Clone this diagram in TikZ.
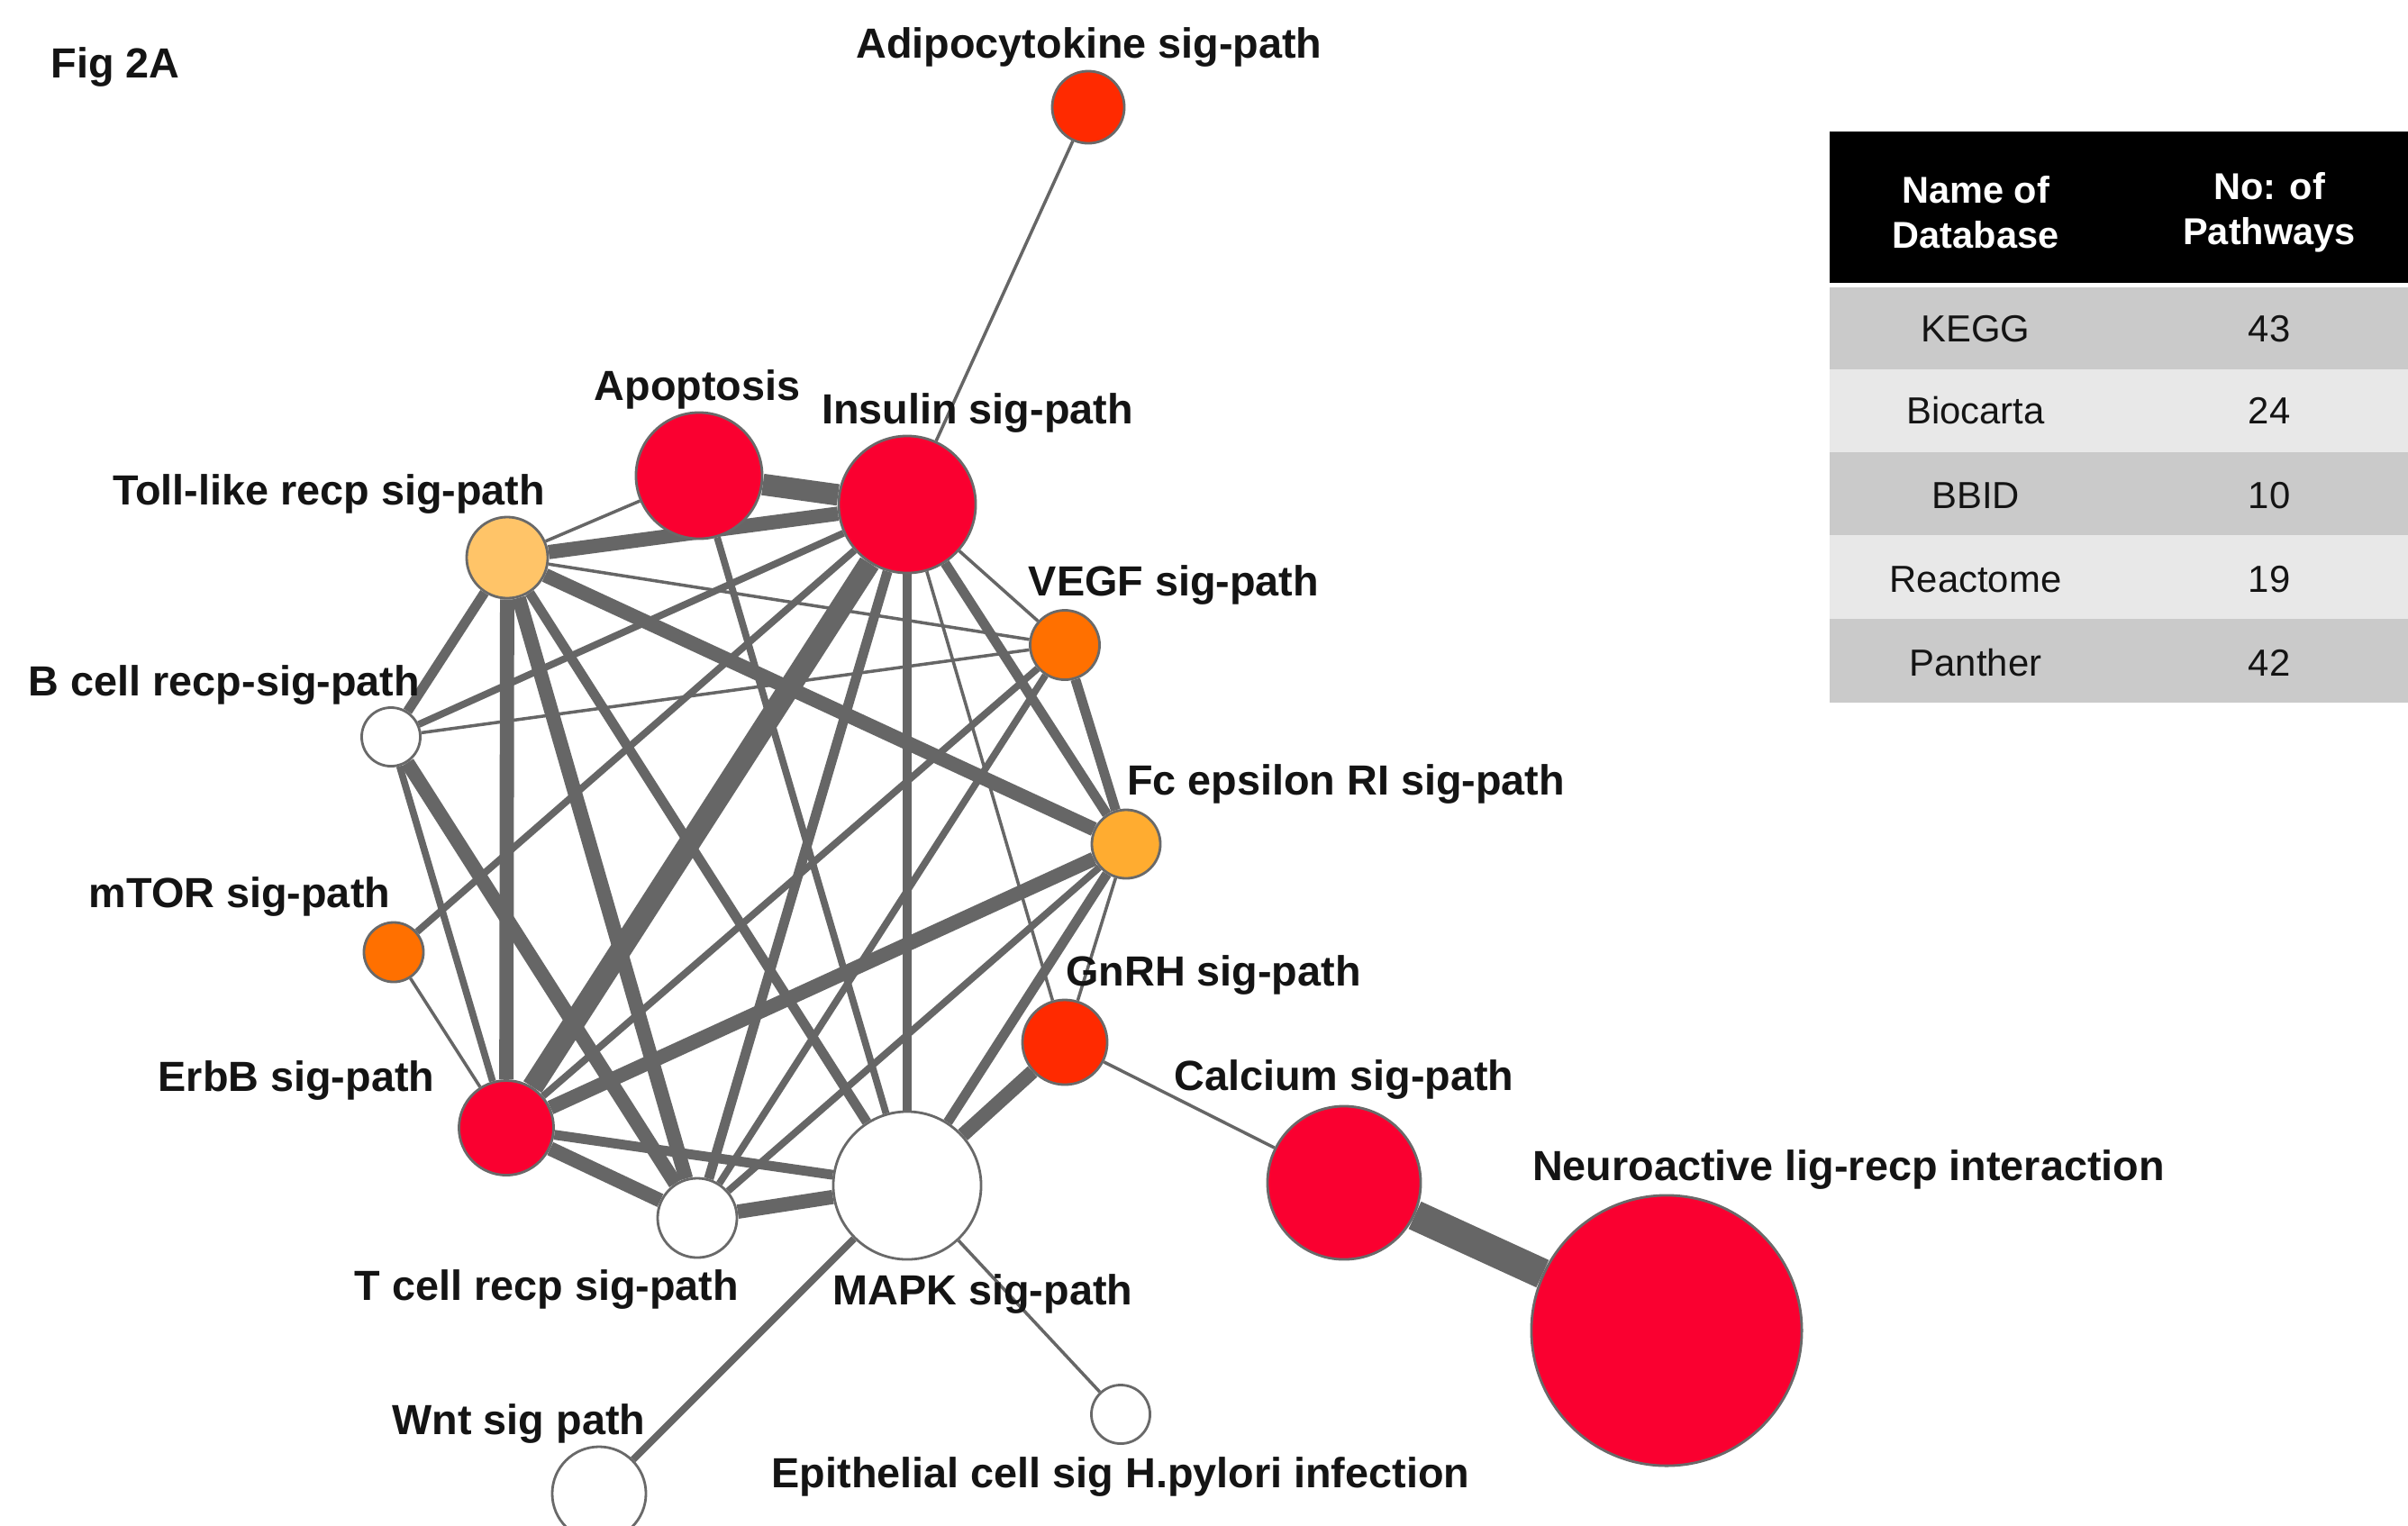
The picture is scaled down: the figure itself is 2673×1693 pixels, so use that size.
\documentclass[tikz,border=0pt]{standalone}
\usepackage{fontspec}
\setmainfont{Liberation Sans}
\usetikzlibrary{backgrounds}
\pgfdeclarelayer{bottom}
\pgfsetlayers{bottom,background,main}
\definecolor{edgegray}{RGB}{102,102,102}
\definecolor{nodeborder}{RGB}{105,105,105}
\definecolor{cred}{RGB}{250,0,48}
\definecolor{credorange}{RGB}{255,42,0}
\definecolor{corange}{RGB}{255,112,0}
\definecolor{cfc}{RGB}{255,172,48}
\definecolor{ctoll}{RGB}{255,196,104}
\definecolor{rowdark}{RGB}{202,202,202}
\definecolor{rowlight}{RGB}{232,232,232}
\definecolor{lbltext}{RGB}{20,20,20}
\begin{document}
\begin{tikzpicture}[x=0.01cm,y=-0.01cm,
  pnode/.style={circle,draw=nodeborder,line width=0.8pt,inner sep=0pt,minimum size=#1},
  lbl/.style={font=\fontsize{13.3}{15}\selectfont\bfseries,text=lbltext,inner sep=0pt,text height=0.72em,text depth=0.2em},
  hdr/.style={font=\fontsize{11.8}{14.2}\selectfont\bfseries,text=white,align=center,inner sep=0pt},
  cell/.style={font=\fontsize{11.9}{14}\selectfont,text=lbltext,inner sep=0pt,text height=0.72em,text depth=0.2em},
  e1/.style={draw=edgegray,line width=1.0pt},
  e2/.style={draw=edgegray,line width=2.2pt},
  e3/.style={draw=edgegray,line width=3.1pt},
  e4/.style={draw=edgegray,line width=4.5pt},
  e5/.style={draw=edgegray,line width=6.8pt},
  e6/.style={draw=edgegray,line width=9.5pt}]
\useasboundingbox (0,0) rectangle (2673,1693);
\begin{pgfonlayer}{bottom}
\fill[white] (0,0) rectangle (2673,1693);
\end{pgfonlayer}

% nodes
\node[pnode=0.80cm,fill=credorange] (adi) at (1208,119) {};
\node[pnode=1.40cm,fill=cred] (apo) at (776,528) {};
\node[pnode=1.52cm,fill=cred] (ins) at (1007,560) {};
\node[pnode=0.90cm,fill=ctoll] (toll) at (563,619) {};
\node[pnode=0.77cm,fill=corange] (vegf) at (1182,716) {};
\node[pnode=0.65cm,fill=white] (bcell) at (434,818) {};
\node[pnode=0.76cm,fill=cfc] (fc) at (1250,937) {};
\node[pnode=0.66cm,fill=corange] (mtor) at (437,1057) {};
\node[pnode=0.94cm,fill=credorange] (gnrh) at (1182,1157) {};
\node[pnode=1.05cm,fill=cred] (erbb) at (562,1252) {};
\node[pnode=0.88cm,fill=white] (tcell) at (774,1352) {};
\node[pnode=1.64cm,fill=white] (mapk) at (1007,1316) {};
\node[pnode=1.70cm,fill=cred] (cal) at (1492,1313) {};
\node[pnode=3.00cm,fill=cred] (neuro) at (1850,1477) {};
\node[pnode=1.04cm,fill=white] (wnt) at (665,1658) {};
\node[pnode=0.65cm,fill=white] (epi) at (1244,1570) {};

% edges
\begin{pgfonlayer}{background}
\draw[e1] (adi) -- (ins);
\draw[e5] (apo) -- (ins);
\draw[e1] (apo) -- (toll);
\draw[e2] (apo) -- (mapk);
\draw[e4] (toll) -- (ins);
\draw[e1] (toll) -- (vegf);
\draw[e4] (toll) -- (fc);
\draw[e3] (toll) -- (bcell);
\draw[e4] (toll) -- (erbb);
\draw[e4] (toll) -- (tcell);
\draw[e3] (toll) -- (mapk);
\draw[e2] (ins) -- (bcell);
\draw[e1] (ins) -- (vegf);
\draw[e3] (ins) -- (fc);
\draw[e1] (ins) -- (gnrh);
\draw[e3] (ins) -- (mapk);
\draw[e3] (ins) -- (tcell);
\draw[e5] (ins) -- (erbb);
\draw[e2] (ins) -- (mtor);
\draw[e1] (bcell) -- (vegf);
\draw[e2] (bcell) -- (erbb);
\draw[e4] (bcell) -- (tcell);
\draw[e3] (vegf) -- (fc);
\draw[e2] (vegf) -- (erbb);
\draw[e2] (vegf) -- (tcell);
\draw[e4] (fc) -- (erbb);
\draw[e2] (fc) -- (tcell);
\draw[e3] (fc) -- (mapk);
\draw[e1] (fc) -- (gnrh);
\draw[e1] (mtor) -- (erbb);
\draw[e4] (gnrh) -- (mapk);
\draw[e1] (gnrh) -- (cal);
\draw[e4] (erbb) -- (tcell);
\draw[e3] (erbb) -- (mapk);
\draw[e4] (tcell) -- (mapk);
\draw[e2] (mapk) -- (wnt);
\draw[e1] (mapk) -- (epi);
\draw[e6] (cal) -- (neuro);
\end{pgfonlayer}

% labels
\node[lbl,anchor=west] (fig) at (56,77) {Fig 2A};
\node[lbl] (ladi) at (1209,55) {Adipocytokine sig-path};
\node[lbl] (lapo) at (774,435) {Apoptosis};
\node[lbl] (lins) at (1085,461) {Insulin sig-path};
\node[lbl] (ltoll) at (365,551) {Toll-like recp sig-path};
\node[lbl] (lvegf) at (1303,652) {VEGF sig-path};
\node[lbl] (lbcell) at (249,763) {B cell recp-sig-path};
\node[lbl] (lfc) at (1494,873) {Fc epsilon RI sig-path};
\node[lbl] (lmtor) at (266,998) {mTOR sig-path};
\node[lbl] (lgnrh) at (1347,1085) {GnRH sig-path};
\node[lbl] (lerbb) at (329,1202) {ErbB sig-path};
\node[lbl] (lcal) at (1492,1201) {Calcium sig-path};
\node[lbl] (lneuro) at (2052,1301) {Neuroactive lig-recp interaction};
\node[lbl] (ltcell) at (607,1434) {T cell recp sig-path};
\node[lbl] (lmapk) at (1091,1439) {MAPK sig-path};
\node[lbl] (lwnt) at (576,1583) {Wnt sig path};
\node[lbl] (lepi) at (1244,1642) {Epithelial cell sig H.pylori infection};

% table
\fill[black] (2031,146) rectangle (2673,314);
\fill[rowdark] (2031,319) rectangle (2673,410);
\fill[rowlight] (2031,410) rectangle (2673,502);
\fill[rowdark] (2031,502) rectangle (2673,594);
\fill[rowlight] (2031,594) rectangle (2673,687);
\fill[rowdark] (2031,687) rectangle (2673,780);
\node[hdr] (h1) at (2193,236) {Name of\\Database};
\node[hdr] (h2) at (2519,236) {No: of\\Pathways};
\node[cell] (r1a) at (2193,370) {KEGG};
\node[cell] (r1b) at (2519,370) {43};
\node[cell] (r2a) at (2193,461) {Biocarta};
\node[cell] (r2b) at (2519,461) {24};
\node[cell] (r3a) at (2193,555) {BBID};
\node[cell] (r3b) at (2519,555) {10};
\node[cell] (r4a) at (2193,648) {Reactome};
\node[cell] (r4b) at (2519,648) {19};
\node[cell] (r5a) at (2193,741) {Panther};
\node[cell] (r5b) at (2519,741) {42};
\end{tikzpicture}
\end{document}
